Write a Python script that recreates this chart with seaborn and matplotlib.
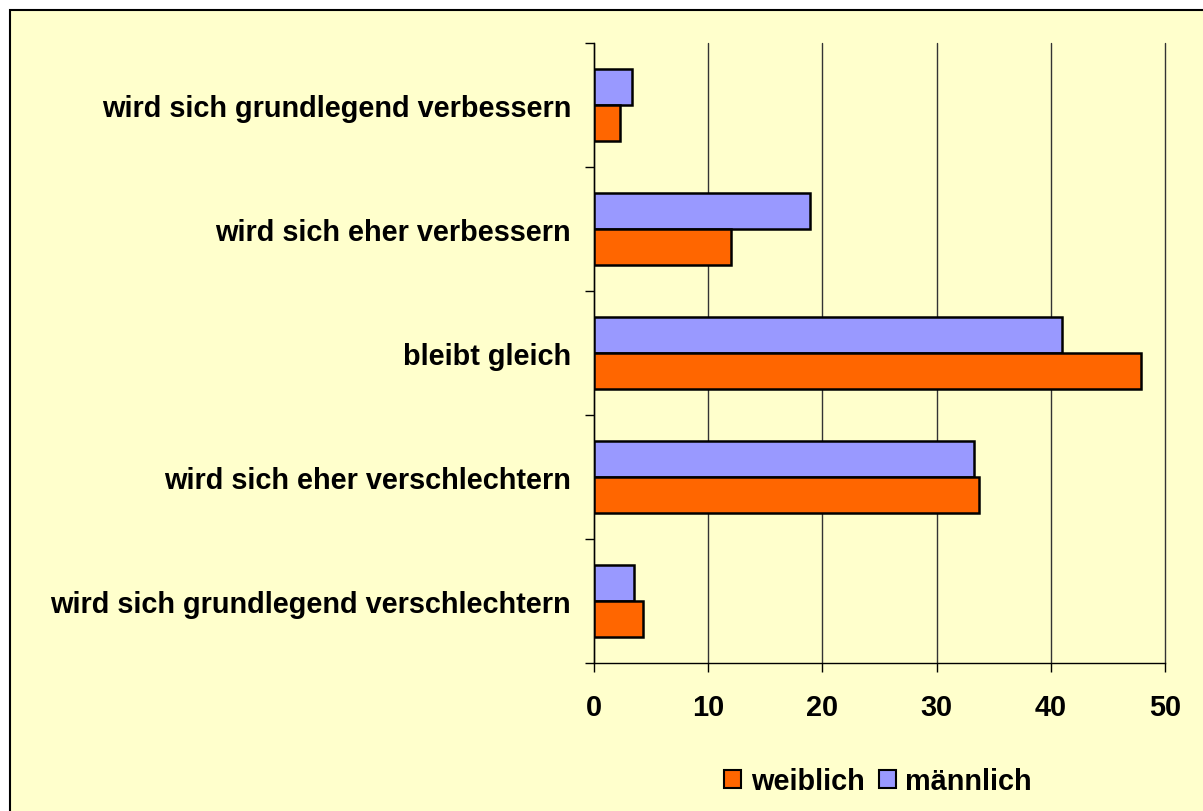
import pandas as pd
import seaborn as sns
import matplotlib.pyplot as plt
from matplotlib.patches import Rectangle, Patch
from matplotlib.ticker import FixedLocator

categories = [
    'wird sich grundlegend verbessern',
    'wird sich eher verbessern',
    'bleibt gleich',
    'wird sich eher verschlechtern',
    'wird sich grundlegend verschlechtern',
]
maennlich = [3.3, 18.9, 41.0, 33.3, 3.5]
weiblich = [2.3, 12.0, 47.9, 33.7, 4.3]
x_ticks = [0, 10, 20, 30, 40, 50]

bg = '#FFFFCC'
colors = {'männlich': '#9999FF', 'weiblich': '#FF6600'}
fs = 20.8

sns.set_style('white')
plt.rcParams['font.family'] = ['Liberation Sans', 'DejaVu Sans']
plt.rcParams['font.weight'] = 'bold'
plt.rcParams['text.color'] = 'black'
plt.rcParams['xtick.color'] = 'black'
plt.rcParams['ytick.color'] = 'black'

rows = []
for cat, m, w in zip(categories, maennlich, weiblich):
    rows.append((cat, 'männlich', m))
    rows.append((cat, 'weiblich', w))
df = pd.DataFrame(rows, columns=['Kategorie', 'Geschlecht', 'Wert'])

fig = plt.figure(figsize=(12.03, 8.12), dpi=100, facecolor='white')
# chart area border
fig.patches.append(Rectangle((10 / 1203, -0.02), 1.02, 1 - 11 / 812 + 0.02,
                             transform=fig.transFigure, facecolor=bg,
                             edgecolor='black', lw=1.5, zorder=-10))

ax = fig.add_axes([594 / 1203, 1 - 664 / 812, (1165 - 594) / 1203, (664 - 44) / 812])
ax.set_facecolor(bg)

sns.barplot(data=df, y='Kategorie', x='Wert', hue='Geschlecht',
            hue_order=['männlich', 'weiblich'], palette=colors, saturation=1,
            orient='h', width=0.58, gap=0, edgecolor='black', linewidth=1.8,
            ax=ax, legend=False, zorder=3)

ax.set_xlim(0, 50)
ax.set_ylim(4.5, -0.5)
ax.set_xticks(x_ticks)
ax.xaxis.grid(True, color='#333333', lw=1, zorder=0)
for gl in ax.get_xgridlines():
    gl.set_clip_on(False)
ax.set_axisbelow(True)
ax.yaxis.grid(False)

for side in ['top', 'right']:
    ax.spines[side].set_visible(False)
for side in ['left', 'bottom']:
    ax.spines[side].set_color('black')
    ax.spines[side].set_linewidth(1)

ax.yaxis.set_minor_locator(FixedLocator([i - 0.5 for i in range(len(categories) + 1)]))
ax.tick_params(axis='y', which='major', length=0, pad=16.5, labelsize=fs)
ax.tick_params(axis='y', which='minor', left=True, length=6.5, width=1, color='black')
ax.tick_params(axis='x', which='major', bottom=True, length=6.5, width=1,
               color='black', pad=15, labelsize=fs)
for lab in ax.get_xticklabels() + ax.get_yticklabels():
    lab.set_fontweight('bold')
    lab.set_color('black')

ax.set_xlabel('')
ax.set_ylabel('')

handles = [Patch(facecolor=colors['weiblich'], edgecolor='black', lw=1.5),
           Patch(facecolor=colors['männlich'], edgecolor='black', lw=1.5)]
fig.legend(handles, ['weiblich', 'männlich'], loc='center',
           bbox_to_anchor=(878 / 1203, 1 - 782 / 812), ncol=2, frameon=False,
           prop={'size': fs, 'weight': 'bold'}, handlelength=0.6,
           handleheight=0.6, handletextpad=0.32, columnspacing=0.5)

fig.savefig('out.png', dpi=100, facecolor='white')
